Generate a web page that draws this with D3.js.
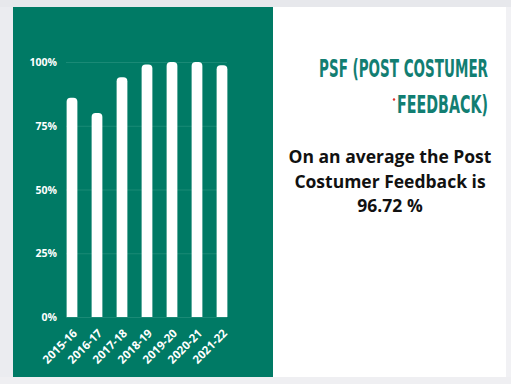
<!DOCTYPE html>
<html>
    <head>
        <meta charset="utf-8" />
        <title>PSF</title>
        <style type="text/css">
            body {
                margin: 0;
                background-color: #ebecf0;
            }
            .ylab, .xlab {
                fill: #fff;
                font-family: "Open Sans", sans-serif;
                font-weight: 700;
                font-size: 10.5px;
            }
            .xlab {
                font-size: 11.5px;
            }
            .grid line {
                stroke: #1a8a76;
                stroke-width: 1px;
            }
            .title {
                fill: #127e72;
                font-family: "DejaVu Sans Condensed", "Roboto", sans-serif;
                font-weight: 700;
                font-size: 25px;
            }
            .body {
                fill: #111;
                font-family: "Open Sans", sans-serif;
                font-weight: 700;
                font-size: 17.5px;
            }
        </style>
        <script type="text/javascript" src="https://d3js.org/d3.v7.min.js"></script>
    </head>
    <body>
        <div id="chart"></div>
        <script type="text/javascript">
            var years = ["2015-16", "2016-17", "2017-18", "2018-19", "2019-20", "2020-21", "2021-22"];
            var values = [86, 80, 94, 99, 100, 100, 98.7];
            var yTicks = [0, 25, 50, 75, 100];
            var titleLines = ["PSF (POST COSTUMER", "FEEDBACK)"];
            var bodyLines = ["On an average the Post", "Costumer Feedback is", "96.72 %"];

            var width = 511,
                height = 384;

            var svg = d3
                .select("#chart")
                .append("svg")
                .attr("width", width)
                .attr("height", height);

            // background panels
            svg.append("rect").attr("x", 0).attr("y", 0).attr("width", width).attr("height", height).attr("fill", "#ebecf0");
            svg.append("rect").attr("x", 0).attr("y", 0).attr("width", width).attr("height", 7).attr("fill", "#e7e8ec");
            svg.append("rect").attr("x", 506).attr("y", 7).attr("width", 5).attr("height", 377).attr("fill", "#f1f1f4");
            svg.append("rect").attr("x", 0).attr("y", 377).attr("width", width).attr("height", 7).attr("fill", "#efeff2");
            svg.append("rect").attr("x", 13).attr("y", 7).attr("width", 260).attr("height", 370).attr("fill", "#007a65");
            svg.append("rect").attr("x", 273).attr("y", 7).attr("width", 233).attr("height", 370).attr("fill", "#ffffff");

            var xScale = d3
                .scaleBand()
                .domain(years)
                .range([59.5, 234.5])
                .paddingInner(0.57)
                .paddingOuter(0.285);

            var yScale = d3.scaleLinear().domain([0, 100]).range([317, 62]);

            // gridlines
            svg.append("g")
                .attr("class", "grid")
                .selectAll("line")
                .data(yTicks)
                .enter()
                .append("line")
                .attr("x1", 66)
                .attr("x2", 227)
                .attr("y1", function (d) {
                    return yScale(d) + 0.5;
                })
                .attr("y2", function (d) {
                    return yScale(d) + 0.5;
                });

            // y labels
            svg.append("g")
                .selectAll("text")
                .data(yTicks)
                .enter()
                .append("text")
                .attr("class", "ylab")
                .attr("x", 57)
                .attr("y", function (d) {
                    return yScale(d) + 4;
                })
                .attr("text-anchor", "end")
                .text(function (d) {
                    return d + "%";
                });

            // bars, rounded top
            var r = 4;
            svg.append("g")
                .selectAll("path")
                .data(values)
                .enter()
                .append("path")
                .attr("fill", "#fff")
                .attr("d", function (d, i) {
                    var x0 = xScale(years[i]),
                        w = xScale.bandwidth(),
                        y0 = yScale(d),
                        yb = yScale(0);
                    return (
                        "M" + x0 + "," + yb +
                        "V" + (y0 + r) +
                        "Q" + x0 + "," + y0 + " " + (x0 + r) + "," + y0 +
                        "H" + (x0 + w - r) +
                        "Q" + (x0 + w) + "," + y0 + " " + (x0 + w) + "," + (y0 + r) +
                        "V" + yb + "Z"
                    );
                });

            // x labels
            svg.append("g")
                .selectAll("text")
                .data(years)
                .enter()
                .append("text")
                .attr("class", "xlab")
                .attr("text-anchor", "end")
                .attr("transform", function (d) {
                    var x = xScale(d) + xScale.bandwidth() / 2 + 6;
                    return "translate(" + x + ",334) rotate(-45)";
                })
                .text(function (d) {
                    return d;
                });

            // title - condensed look by squeezing horizontally
            var titleY = [77, 113];
            var titleW = [169, 91];
            svg.selectAll(".title")
                .data(titleLines)
                .enter()
                .append("text")
                .attr("class", "title")
                .attr("text-anchor", "end")
                .text(function (d) {
                    return d;
                })
                .attr("transform", function (d, i) {
                    var k = titleW[i] / this.getComputedTextLength();
                    return "translate(488," + titleY[i] + ") scale(" + k + ",1)";
                });

            svg.append("circle")
                .attr("cx", 394)
                .attr("cy", 99.5)
                .attr("r", 1.2)
                .attr("fill", "#e0302a");

            svg.selectAll(".body")
                .data(bodyLines)
                .enter()
                .append("text")
                .attr("class", "body")
                .attr("x", 390)
                .attr("y", function (d, i) {
                    return 163 + i * 24.5;
                })
                .attr("text-anchor", "middle")
                .text(function (d) {
                    return d;
                });
        </script>
    </body>
</html>
